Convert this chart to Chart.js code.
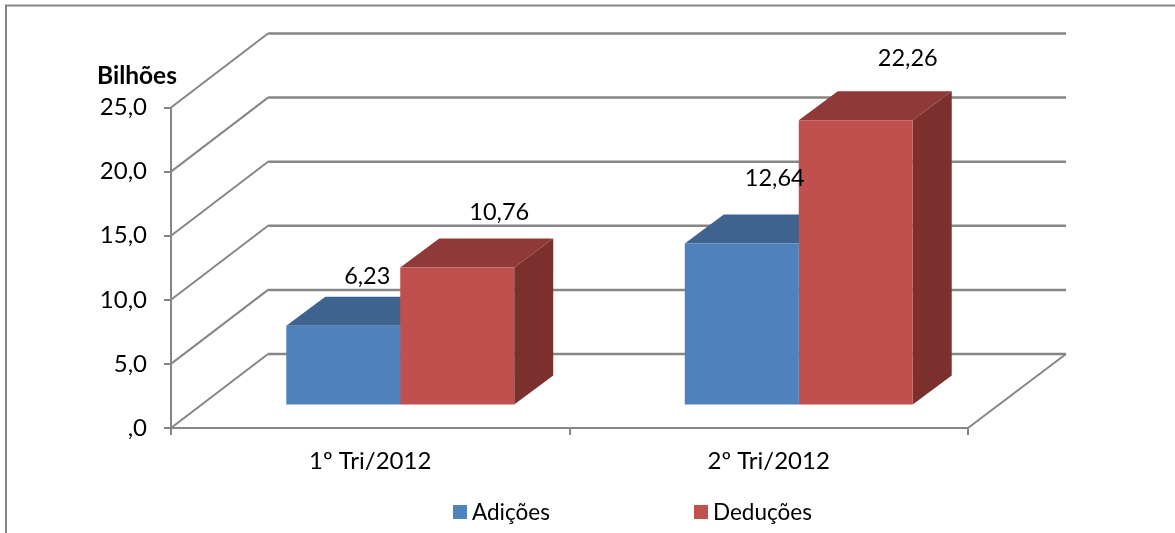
<!DOCTYPE html>
<html lang="pt">
<head>
<meta charset="utf-8">
<style>html,body{margin:0;padding:0;background:#fff}canvas{display:block}</style>
<script src="https://cdn.jsdelivr.net/npm/chart.js@4"></script>
</head>
<body>
<canvas id="c" width="1175" height="533"></canvas>
<script>
const categories = ['1º Tri/2012', '2º Tri/2012'];
const adicoes = [6.23, 12.64];
const deducoes = [10.76, 22.26];
const adicoesLabels = ['6,23', '12,64'];
const deducoesLabels = ['10,76', '22,26'];
const yTickLabels = [',0', '5,0', '10,0', '15,0', '20,0', '25,0'];
const unitLabel = 'Bilhões';

const FONT = 'Lato, Carlito, sans-serif';
const FS_AXIS = 24;
const FS_VALUE = 23.5;
const FS_LEGEND = 22.5;
const FS_UNIT = 24.5;
const AXIS = '#868686';
const WALL = {dx: 97, dy: -74};
const BAR_SHIFT = {dx: 30, dy: -22.5};
const DEPTH = {dx: 39, dy: -29};
const faces = [
  {front: '#4F81BD', top: '#3E638F', side: '#36587F'},
  {front: '#C0504D', top: '#8F3A39', side: '#7B302E'}
];
const labelOffsets = [
  [[24, -49], [33, -65]],
  [[42, -55], [52, -62]]
];
const legendItems = [
  {text: 'Adições', color: faces[0].front, x: 453},
  {text: 'Deduções', color: faces[1].front, x: 694}
];

function line(ctx, pts, w) {
  ctx.beginPath();
  pts.forEach((p, i) => i ? ctx.lineTo(p[0], p[1]) : ctx.moveTo(p[0], p[1]));
  ctx.lineWidth = w;
  ctx.strokeStyle = AXIS;
  ctx.stroke();
}
function poly(ctx, pts, color) {
  ctx.beginPath();
  pts.forEach((p, i) => i ? ctx.lineTo(p[0], p[1]) : ctx.moveTo(p[0], p[1]));
  ctx.closePath();
  ctx.fillStyle = color;
  ctx.fill();
}

const scene3d = {
  id: 'scene3d',
  beforeDraw(chart) {
    const ctx = chart.ctx;
    ctx.save();
    ctx.fillStyle = '#fff';
    ctx.fillRect(0, 0, chart.width, chart.height);
    line(ctx, [[6, 533], [6, 5.5], [1175, 5.5]], 2);
    ctx.restore();
  },
  beforeDatasetsDraw(chart) {
    const ctx = chart.ctx, a = chart.chartArea, y = chart.scales.y;
    ctx.save();
    y.ticks.forEach(t => {
      const py = y.getPixelForValue(t.value);
      line(ctx, [[a.left, py], [a.left + WALL.dx, py + WALL.dy]], 2);
      line(ctx, [[a.left + WALL.dx, py + WALL.dy], [a.right + WALL.dx + 1, py + WALL.dy]], 2.5);
    });
    line(ctx, [[a.right, a.bottom], [a.right + WALL.dx + 1, a.bottom + WALL.dy]], 2);
    // top and side faces: first series first, so the next series covers it
    faces.forEach((f, ds) => {
      chart.getDatasetMeta(ds).data.forEach(b => {
        const sx = BAR_SHIFT.dx, sy = BAR_SHIFT.dy, dx = DEPTH.dx, dy = DEPTH.dy;
        const l = b.x - b.width / 2 + sx, r = b.x + b.width / 2 + sx, t = b.y + sy, bt = b.base + sy;
        poly(ctx, [[r, t], [r + dx, t + dy], [r + dx, bt + dy], [r, bt]], f.side);
        poly(ctx, [[l, t], [l + dx, t + dy], [r + dx, t + dy], [r, t]], f.top);
      });
    });
    ctx.restore();
  },
  beforeDatasetDraw(chart) {
    chart.ctx.save();
    chart.ctx.translate(BAR_SHIFT.dx, BAR_SHIFT.dy);
  },
  afterDatasetDraw(chart) {
    chart.ctx.restore();
  },
  afterDatasetsDraw(chart) {
    const ctx = chart.ctx;
    ctx.save();
    ctx.fillStyle = '#000';
    ctx.font = FS_VALUE + 'px ' + FONT;
    ctx.textAlign = 'center';
    ctx.textBaseline = 'middle';
    [adicoesLabels, deducoesLabels].forEach((labels, ds) => {
      chart.getDatasetMeta(ds).data.forEach((b, i) => {
        const o = labelOffsets[ds][i];
        ctx.fillText(labels[i], b.x + BAR_SHIFT.dx + o[0], b.y + BAR_SHIFT.dy + o[1]);
      });
    });
    ctx.font = 'bold ' + FS_UNIT + 'px ' + FONT;
    ctx.textAlign = 'left';
    ctx.fillText(unitLabel, 97, 76);
    ctx.font = FS_LEGEND + 'px ' + FONT;
    legendItems.forEach(it => {
      ctx.fillStyle = it.color;
      ctx.fillRect(it.x, 505, 14, 14);
      ctx.fillStyle = '#000';
      ctx.fillText(it.text, it.x + 19, 513);
    });
    ctx.restore();
  }
};

new Chart(document.getElementById('c'), {
  type: 'bar',
  data: {
    labels: categories,
    datasets: [
      {label: 'Adições', data: adicoes, backgroundColor: faces[0].front, clip: false,
       barPercentage: 1, categoryPercentage: 0.572},
      {label: 'Deduções', data: deducoes, backgroundColor: faces[1].front, clip: false,
       barPercentage: 1, categoryPercentage: 0.572}
    ]
  },
  options: {
    responsive: false,
    animation: false,
    layout: {padding: {top: 107.5, right: 207, left: 0, bottom: 0}},
    plugins: {legend: {display: false}, title: {display: false}, tooltip: {enabled: false}},
    scales: {
      x: {
        afterFit(s) { s.height = 105; },
        border: {color: AXIS, width: 2},
        grid: {drawOnChartArea: false, drawTicks: true, tickLength: 7, color: AXIS, lineWidth: 2},
        ticks: {color: '#000', font: {family: FONT, size: FS_AXIS}, padding: 12, maxRotation: 0}
      },
      y: {
        min: 0, max: 25,
        afterFit(s) { s.width = 171; },
        border: {color: AXIS, width: 2},
        grid: {drawOnChartArea: false, drawTicks: true, tickLength: 7, color: AXIS, lineWidth: 2},
        ticks: {
          stepSize: 5, color: '#000', font: {family: FONT, size: FS_AXIS}, padding: 17,
          callback: (v) => yTickLabels[v / 5]
        }
      }
    }
  },
  plugins: [scene3d]
});
</script>
</body>
</html>
